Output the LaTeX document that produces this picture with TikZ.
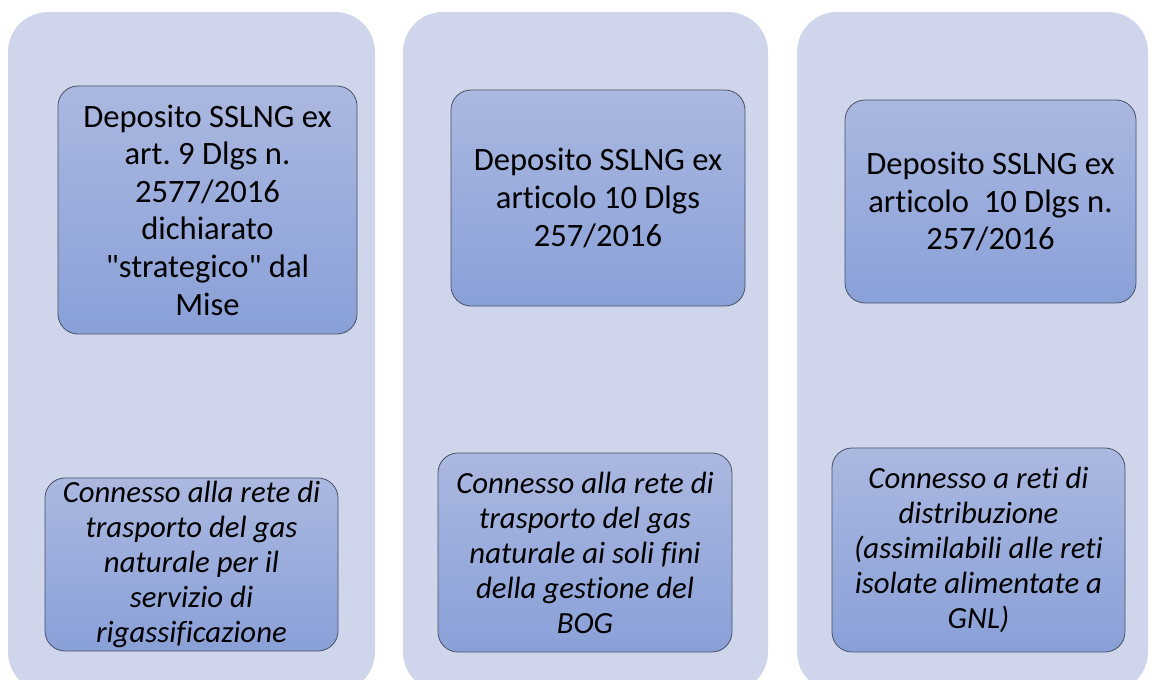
\documentclass[tikz,border=0pt]{standalone}
\usepackage{xcolor}
\definecolor{panelblue}{RGB}{207,213,234}
\definecolor{boxtop}{RGB}{171,184,224}
\definecolor{boxbottom}{RGB}{137,160,216}
\definecolor{boxedge}{RGB}{72,82,104}
\usepackage{fontspec}
\newfontfamily\calibri{Carlito}[Ligatures=NoCommon]
\newcommand*{\depotfont}{\calibri\frenchspacing\fontsize{32.6}{37.6}\selectfont}
\newcommand*{\linkfont}{\calibri\frenchspacing\fontsize{30.8}{35}\selectfont\itshape}
\usepackage{tikz}

\begin{document}
\begin{tikzpicture}[x=1pt,y=-1pt,
    panel/.style={fill=panelblue,rounded corners=40pt,inner sep=0pt},
    depot/.style={draw=boxedge,line width=0.8pt,top color=boxtop,bottom color=boxbottom,
      rounded corners=20pt,inner sep=0pt,align=center,font=\depotfont},
    link/.style={depot,font=\linkfont}]
  \clip (0,0) rectangle (1149,680);
  % columns
  \node[panel,minimum width=367pt,minimum height=680pt] (col1) at (191.5,352) {};
  \node[panel,minimum width=365pt,minimum height=680pt] (col2) at (585.5,352) {};
  \node[panel,minimum width=351pt,minimum height=680pt] (col3) at (972.5,352) {};
  % upper boxes
  \node[depot,minimum width=299pt,minimum height=248pt] (dep1) at (207.5,210)
    {Deposito SSLNG ex\\art. 9 Dlgs n.\\2577/2016\\dichiarato\\"strategico" dal\\Mise};
  \node[depot,minimum width=294pt,minimum height=216pt] (dep2) at (598,198)
    {Deposito SSLNG ex\\articolo 10 Dlgs\\257/2016};
  \node[depot,minimum width=291pt,minimum height=203pt] (dep3) at (990.5,201.5)
    {Deposito SSLNG ex\\articolo\ \ 10 Dlgs n.\\257/2016};
  % lower boxes
  \node[link,minimum width=293pt,minimum height=173pt] (con1) at (191.5,564.5)
    {Connesso alla rete di\\trasporto del gas\\naturale per il\\servizio di\\rigassificazione};
  \node[link,minimum width=294pt,minimum height=199pt] (con2) at (585,552.5)
    {Connesso alla rete di\\trasporto del gas\\naturale ai soli fini\\della gestione del\\BOG};
  \node[link,minimum width=293pt,minimum height=204pt] (con3) at (978.5,550)
    {Connesso a reti di\\distribuzione\\(assimilabili alle reti\\isolate alimentate a\\GNL)};
\end{tikzpicture}
\end{document}
